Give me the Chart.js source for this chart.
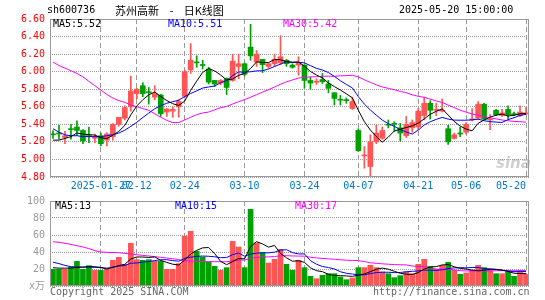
<!DOCTYPE html>
<html><head><meta charset="utf-8">
<script src="https://cdn.jsdelivr.net/npm/chart.js@4.4.1/dist/chart.umd.min.js"></script>
<style>
body{margin:0;background:#fff;width:545px;height:300px;overflow:hidden;position:relative;font-family:"DejaVu Sans Mono",monospace;}
canvas{position:absolute;left:0;}
.t{position:absolute;font-size:10px;line-height:12px;white-space:pre;font-family:"DejaVu Sans Mono",monospace;}
</style></head><body>
<canvas id="pc" width="545" height="190" style="top:0px"></canvas>
<canvas id="vc" width="545" height="110" style="top:190px"></canvas>
<div id="overlay"></div>
<script>
// ---------- data ----------
const dates = ['2025-01-15','2025-01-16','2025-01-17','2025-01-20','2025-01-21','2025-01-22','2025-01-23','2025-01-24','2025-01-27',
'2025-02-05','2025-02-06','2025-02-07','2025-02-10','2025-02-11','2025-02-12','2025-02-13','2025-02-14','2025-02-17','2025-02-18','2025-02-19','2025-02-20','2025-02-21','2025-02-24','2025-02-25','2025-02-26','2025-02-27','2025-02-28',
'2025-03-03','2025-03-04','2025-03-05','2025-03-06','2025-03-07','2025-03-10','2025-03-11','2025-03-12','2025-03-13','2025-03-14','2025-03-17','2025-03-18','2025-03-19','2025-03-20','2025-03-21','2025-03-24','2025-03-25','2025-03-26','2025-03-27','2025-03-28','2025-03-31',
'2025-04-01','2025-04-02','2025-04-03','2025-04-07','2025-04-08','2025-04-09','2025-04-10','2025-04-11','2025-04-14','2025-04-15','2025-04-16','2025-04-17','2025-04-18','2025-04-21','2025-04-22','2025-04-23','2025-04-24','2025-04-25','2025-04-28','2025-04-29','2025-04-30',
'2025-05-06','2025-05-07','2025-05-08','2025-05-09','2025-05-12','2025-05-13','2025-05-14','2025-05-15','2025-05-16','2025-05-19','2025-05-20'];

const open  = [5.29,5.30,5.25,5.35,5.37,5.33,5.27,5.24,5.27,5.22,5.26,5.40,5.47,5.60,5.75,5.84,5.77,5.71,5.735,5.54,
               5.55,5.60,5.72,6.02,6.11,6.08,6.03,5.90,5.87,5.92,5.90,6.06,6.09,6.28,6.11,6.14,6.06,6.09,6.10,6.13,
               6.075,6.075,6.075,5.90,5.88,5.91,5.86,5.76,5.68,5.675,5.58,5.33,5.04,4.92,5.20,5.24,5.40,5.41,5.36,5.27,
               5.36,5.37,5.50,5.64,5.56,5.55,5.35,5.24,5.30,5.31,5.45,5.47,5.63,5.45,5.56,5.50,5.57,5.52,5.50,5.52];
const high  = [5.33,5.39,5.32,5.40,5.44,5.34,5.37,5.29,5.30,5.305,5.41,5.48,5.61,5.95,5.81,5.875,5.82,5.84,5.74,5.58,
               5.60,5.68,6.02,6.32,6.18,6.13,6.05,5.90,5.91,5.93,6.20,6.20,6.10,6.54,6.24,6.14,6.10,6.20,6.41,6.14,
               6.09,6.17,6.08,5.94,5.92,5.98,5.90,5.76,5.73,5.70,5.71,5.35,5.145,5.28,5.39,5.37,5.45,5.43,5.41,5.49,
               5.45,5.58,5.71,5.67,5.64,5.69,5.39,5.30,5.37,5.42,5.58,5.66,5.64,5.51,5.57,5.57,5.61,5.54,5.61,5.59];
const low   = [5.24,5.23,5.18,5.23,5.27,5.18,5.19,5.19,5.155,5.155,5.22,5.38,5.45,5.55,5.69,5.715,5.63,5.68,5.49,5.49,
               5.48,5.48,5.70,5.98,6.05,6.03,5.86,5.83,5.85,5.74,5.89,5.92,5.95,6.13,6.06,5.99,6.04,6.06,6.08,6.06,
               6.04,5.96,5.81,5.80,5.855,5.865,5.76,5.62,5.62,5.64,5.57,5.09,4.90,4.81,5.18,5.23,5.36,5.32,5.21,5.25,
               5.31,5.34,5.45,5.46,5.50,5.54,5.17,5.23,5.26,5.29,5.44,5.46,5.45,5.34,5.50,5.49,5.46,5.50,5.49,5.51];
const close = [5.28,5.29,5.27,5.34,5.33,5.21,5.26,5.25,5.18,5.29,5.40,5.48,5.59,5.78,5.80,5.75,5.76,5.75,5.52,5.575,
               5.57,5.66,6.00,6.13,6.10,6.07,5.88,5.86,5.90,5.82,6.12,6.09,5.97,6.18,6.20,6.08,6.09,6.14,6.17,6.09,
               6.05,6.10,5.90,5.87,5.89,5.885,5.81,5.695,5.675,5.67,5.66,5.10,5.05,5.20,5.30,5.33,5.39,5.40,5.30,5.40,
               5.42,5.55,5.64,5.56,5.57,5.56,5.20,5.28,5.29,5.40,5.46,5.63,5.46,5.46,5.51,5.53,5.51,5.51,5.54,5.53];
const volume = [19.6,19.6,19.6,22.3,29.0,19.6,23.9,18.4,18.4,19.6,30.2,33.7,25.5,50.2,31.0,30.2,31.0,29.0,29.0,19.6,
                19.6,26.3,58.8,64.3,40.8,34.1,28.2,23.1,18.4,21.6,52.5,45.9,21.6,90.2,50.6,39.2,27.0,31.4,43.1,25.5,
                18.4,30.2,21.6,11.4,8.6,12.5,14.5,14.5,10.6,7.4,9.4,21.6,21.6,24.3,21.6,16.5,14.5,9.8,12.2,16.5,
                14.5,25.5,31.4,23.1,19.6,24.3,27.8,18.4,13.7,15.3,18.4,24.3,21.6,18.4,14.5,14.5,16.5,11.4,16.5,13.7];

const ma5Start  = [5.22,5.22,5.24,5.26];
const ma10Start = [5.35,5.31,5.28,5.27,5.27,5.26,5.26,5.26,5.26];
const ma30Start = [6.11,6.07,6.04,6.01,5.98,5.94,5.89,5.84,5.79,5.74,5.70,5.67,5.65,5.62,5.60,5.58,5.56,5.52,5.48,5.445,
                   5.42,5.42,5.45,5.48,5.51,5.53,5.54,5.565,5.59];
const vma5Start  = [21.5,21.0,21.0,21.0];
const vma10Start = [28.0,26.3,24.3,22.7,22.3,22.3,22.3,22.0,21.5];
const vma30Start = [52.1,51.4,50.2,49.0,47.4,45.9,43.9,41.6,40.0,39.6,39.4,39.2,38.4,37.6,36.8,36.0,35.3,34.5,33.7,32.9,
                    32.1,31.0,29.8,29.4,29.0,28.8,28.7,28.6,28.6];

const tickDates = ['2025-01-27','2025-02-12','2025-02-24','2025-03-10','2025-03-24','2025-04-07','2025-04-21','2025-05-06','2025-05-20'];
const priceTicks = {min:4.80, max:6.60, step:0.20};
const volTicks = {min:0, max:100, step:20, unit:'x万'};
const priceLegend = ['MA5:5.52','MA10:5.51','MA30:5.42'];
const volLegend = ['MA5:13','MA10:15','MA30:17'];

// ---------- derived ----------
function ma(vals, n, start){
  return vals.map((v,i)=>{
    if(i < n-1) return start[i];
    let s=0; for(let k=i-n+1;k<=i;k++) s+=vals[k]; return s/n;
  });
}
const ma5 = ma(close,5,ma5Start), ma10 = ma(close,10,ma10Start), ma30 = ma(close,30,ma30Start);
const vma5 = ma(volume,5,vma5Start), vma10 = ma(volume,10,vma10Start), vma30 = ma(volume,30,vma30Start);

const RED='#ff5555', GREEN='#00a000';
const colors = close.map((c,i)=> c>open[i] ? RED : (c<open[i] ? GREEN : (i>0 && c<close[i-1] ? GREEN : RED)));
const bodies = open.map((o,i)=>[o, close[i]]);
const wicks = low.map((l,i)=>[l, high[i]]);
const tickIndex = tickDates.map(d=>dates.indexOf(d));

function xLabel(i){
  const k = tickIndex.indexOf(i);
  if(k<0) return i===0 ? '' : null;
  return k===0 ? dates[i] : dates[i].slice(5);
}
const MONO = "'DejaVu Sans Mono','Noto Sans CJK SC',monospace";
const gridX = c => (c.tick && tickIndex.includes(c.tick.value)) ? '#999999' : 'rgba(0,0,0,0)';

const frame = {id:'frame', afterDraw(c){
  const a=c.chartArea, x=c.ctx;
  x.save(); x.strokeStyle='#999999'; x.lineWidth=1;
  x.strokeRect(Math.round(a.left)+0.5, Math.round(a.top)+0.5, Math.round(a.right-a.left)-1, Math.round(a.bottom-a.top)-1);
  x.restore();
}};

function lineDs(data,color){return {type:'line',data,borderColor:color,borderWidth:1,pointRadius:0,tension:0,order:0,fill:false};}

Chart.defaults.font.family = MONO;
Chart.defaults.font.size = 10;

new Chart(document.getElementById('pc'),{
  type:'bar',
  data:{labels:dates,datasets:[
    lineDs(ma5,'#000000'), lineDs(ma10,'#0000ff'), lineDs(ma30,'#ff00ff'),
    {data:bodies,backgroundColor:colors,barThickness:5,grouped:false,minBarLength:1,order:1,borderWidth:0},
    {data:wicks,backgroundColor:colors,barThickness:1,grouped:false,order:2,borderWidth:0}
  ]},
  options:{
    responsive:false,animation:false,events:[],devicePixelRatio:1,
    layout:{padding:{top:19,right:16,left:0,bottom:0}},
    plugins:{legend:{display:false},tooltip:{enabled:false},title:{display:false}},
    scales:{
      x:{offset:true,
         grid:{offset:false,color:gridX,drawTicks:false,lineWidth:1},
         border:{display:false,dash:[5,3]},
         ticks:{autoSkip:false,maxRotation:0,minRotation:0,color:'#0077cc',padding:3,align:'inner',
                font:{family:MONO,size:10},callback:(v,i)=>xLabel(i)},
         afterFit:s=>{s.height=13;s.paddingLeft=0;s.paddingRight=0;}},
      y:{min:priceTicks.min,max:priceTicks.max,
         ticks:{stepSize:priceTicks.step,color:'#ff0000',padding:5,font:{family:MONO,size:10},callback:v=>Number(v).toFixed(2)},
         grid:{color:'#9a9a9a',drawTicks:false},
         border:{display:false,dash:[1,1]},
         afterFit:s=>{s.width=50;s.paddingTop=0;s.paddingBottom=0;}}
    }
  },
  plugins:[frame]
});

new Chart(document.getElementById('vc'),{
  type:'bar',
  data:{labels:dates,datasets:[
    lineDs(vma5,'#000000'), lineDs(vma10,'#0000ff'), lineDs(vma30,'#ff00ff'),
    {data:volume,backgroundColor:colors,barThickness:5,order:1,borderWidth:0}
  ]},
  options:{
    responsive:false,animation:false,events:[],devicePixelRatio:1,
    layout:{padding:{top:11,right:16,left:0,bottom:0}},
    plugins:{legend:{display:false},tooltip:{enabled:false}},
    scales:{
      x:{offset:true,
         grid:{offset:false,color:gridX,drawTicks:false},
         border:{display:false,dash:[5,3]},
         ticks:{display:false,autoSkip:false,callback:(v,i)=>xLabel(i)},
         afterFit:s=>{s.height=14;s.paddingLeft=0;s.paddingRight=0;}},
      y:{min:volTicks.min,max:volTicks.max,
         ticks:{stepSize:volTicks.step,color:'#999999',padding:5,font:{family:MONO,size:10},
                callback:v=> v===0 ? volTicks.unit : String(v)},
         grid:{color:'#9a9a9a',drawTicks:false},
         border:{display:false,dash:[1,1]},
         afterFit:s=>{s.width=50;s.paddingTop=0;s.paddingBottom=0;}}
    }
  },
  plugins:[frame]
});

// ---------- texts ----------
const texts = [
  {t:'sh600736',x:47,y:4,c:'#000'},
  {t:'2025-05-20 15:00:00',x:399,y:4,c:'#000'},
  {t:priceLegend[0],x:53,y:18,c:'#000'},
  {t:priceLegend[1],x:168,y:18,c:'#0000ff'},
  {t:priceLegend[2],x:283,y:18,c:'#ff00ff'},
  {t:volLegend[0],x:55,y:200,c:'#000'},
  {t:volLegend[1],x:175,y:200,c:'#0000ff'},
  {t:volLegend[2],x:295,y:200,c:'#ff00ff'},
  {t:'Copyright 2025 SINA.COM',x:50,y:286,c:'#666'},
  {t:'http://finance.sina.com.cn',x:373,y:286,c:'#666'}
];
const ov=document.getElementById('overlay');
texts.forEach(o=>{const d=document.createElement('div');d.className='t';d.textContent=o.t;d.style.left=o.x+'px';d.style.top=o.y+'px';d.style.color=o.c;ov.appendChild(d);});
const ti=document.createElement('div');
ti.textContent='苏州高新 - 日K线图';
ti.style.cssText="position:absolute;left:115px;top:3px;font-size:11px;line-height:14px;font-family:'Noto Sans CJK SC',sans-serif;color:#000;white-space:pre;word-spacing:8px;";
ov.appendChild(ti);
const wm=document.createElement('div');
wm.textContent='sina';
wm.style.cssText="position:absolute;left:496px;top:156px;font-size:15px;line-height:15px;font-weight:bold;font-style:italic;font-family:'DejaVu Sans',sans-serif;color:rgba(150,150,150,0.45);";
ov.appendChild(wm);
</script>
</body></html>
